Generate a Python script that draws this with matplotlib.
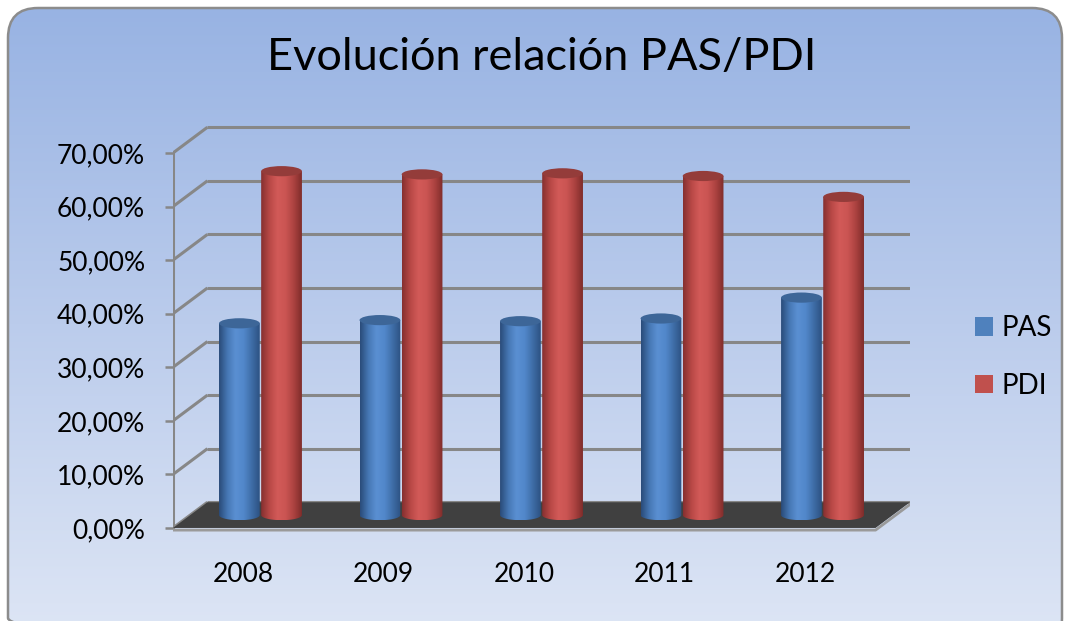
import numpy as np
import matplotlib
matplotlib.use("Agg")
import matplotlib.pyplot as plt
from matplotlib.colors import LinearSegmentedColormap
from matplotlib.patches import Ellipse, Polygon, FancyBboxPatch, Patch, PathPatch
from matplotlib.path import Path

# data (percent)
years = ["2008", "2009", "2010", "2011", "2012"]
pas = [35.8, 36.4, 36.2, 36.7, 40.6]
pdi = [64.2, 63.6, 63.8, 63.3, 59.4]
y_ticks = [0, 10, 20, 30, 40, 50, 60, 70]

plt.rcParams["font.family"] = ["Lato", "DejaVu Sans"]

# fake 3D depth, in data units
DX = 0.245
DY = 4.8
BW = 0.29      # cylinder width
EH = 1.9       # ellipse height
GRID = "#878787"

fig = plt.figure(figsize=(10.66, 6.21), dpi=100)

# rounded background with vertical gradient
bg = fig.add_axes([0, 0, 1, 1], zorder=0)
bg.set_xlim(0, 1066)
bg.set_ylim(621, 0)
bg.axis("off")
bg_cmap = LinearSegmentedColormap.from_list("bg", ["#98B3E3", "#BBCCEC", "#DEE6F5"])
grad = np.linspace(0, 1, 256)[:, None]
img = bg.imshow(grad, cmap=bg_cmap, extent=(8, 1062, 640, 8), aspect="auto")
frame = FancyBboxPatch((8, 8), 1054, 640, boxstyle="round,pad=0,rounding_size=30",
                       fc="none", ec="#8C8C8C", lw=1.8)
bg.add_patch(frame)
img.set_clip_path(frame)

ax = fig.add_axes([173 / 1066, 1 - 536 / 621, 737 / 1066, 412.5 / 621], zorder=1)
ax.patch.set_alpha(0)

# back wall gridlines + side diagonals
for t in y_ticks:
    ax.plot([-0.5, -0.5 + DX], [t, t + DY], color=GRID, lw=2.2, zorder=1, solid_capstyle="butt")
    ax.plot([-0.5 + DX, len(years) - 0.5 + DX], [t + DY, t + DY], color=GRID, lw=2.2, zorder=1,
            solid_capstyle="butt")
ax.plot([-0.5, -0.5], [0, y_ticks[-1]], color=GRID, lw=2.2, zorder=1)

# floor
x_end = len(years) - 0.5
floor = Polygon([(-0.5, 0), (x_end, 0), (x_end + DX, DY), (-0.5 + DX, DY)],
                closed=True, fc="#404040", ec="none", zorder=2)
ax.add_patch(floor)
ax.plot([-0.5, x_end, x_end + DX], [-0.4, -0.4, DY - 0.4], color="#9A9A9A", lw=2, zorder=2)

blue_cmap = LinearSegmentedColormap.from_list(
    "b", ["#2A4C7A", "#4677B4", "#5A8FD2", "#5288CB", "#3F6EA8", "#2D5283"])
red_cmap = LinearSegmentedColormap.from_list(
    "r", ["#863030", "#B84846", "#D25A58", "#CB5553", "#AD4341", "#802D2B"])


def cylinder(xc, h, cmap, top_color, z):
    x0, x1 = xc - BW / 2, xc + BW / 2
    yb = DY / 2
    t = np.linspace(np.pi, 2 * np.pi, 40)
    verts = [(x0, yb + h), (x0, yb)]
    verts += list(zip(xc + BW / 2 * np.cos(t), yb + EH / 2 * np.sin(t)))
    verts += [(x1, yb + h), (x0, yb + h)]
    path = Path(verts)
    body = ax.imshow(np.linspace(0, 1, 64)[None, :], cmap=cmap, aspect="auto",
                     extent=(x0, x1, yb - EH / 2, yb + h), interpolation="bicubic", zorder=z)
    clip = PathPatch(path, transform=ax.transData)
    body.set_clip_path(clip)
    ax.add_patch(Ellipse((xc, yb + h), BW, EH, fc=top_color, ec="none", zorder=z + 0.5))


for i in range(len(years)):
    cylinder(i - 0.15 + DX / 2, pas[i], blue_cmap, "#3D6698", 3 + i)
    cylinder(i + 0.15 + DX / 2, pdi[i], red_cmap, "#943C3A", 3.2 + i)

ax.set_xlim(-0.5, x_end + DX)
ax.set_ylim(-1.5, 75.5)
for s in ax.spines.values():
    s.set_visible(False)

ax.set_yticks(y_ticks)
ax.set_yticklabels([f"{v:.2f}%".replace(".", ",") for v in y_ticks])
ax.tick_params(axis="y", length=6, width=1.8, color=GRID, pad=14, labelsize=19)
ax.set_xticks(range(len(years)))
ax.set_xticklabels(years)
ax.tick_params(axis="x", length=0, pad=19, labelsize=19)

fig.text(542 / 1066, 1 - 57 / 621, "Evolución relación PAS/PDI", ha="center", va="center",
         fontsize=32.5)

fig.legend(handles=[Patch(fc="#4F81BD"), Patch(fc="#C0504D")], labels=["PAS", "PDI"],
           loc="center left", bbox_to_anchor=(950 / 1066, 1 - 357 / 621), frameon=False,
           fontsize=20, handlelength=0.65, handleheight=0.65, handletextpad=0.3,
           labelspacing=1.15)

fig.savefig("out.png", dpi=100)
